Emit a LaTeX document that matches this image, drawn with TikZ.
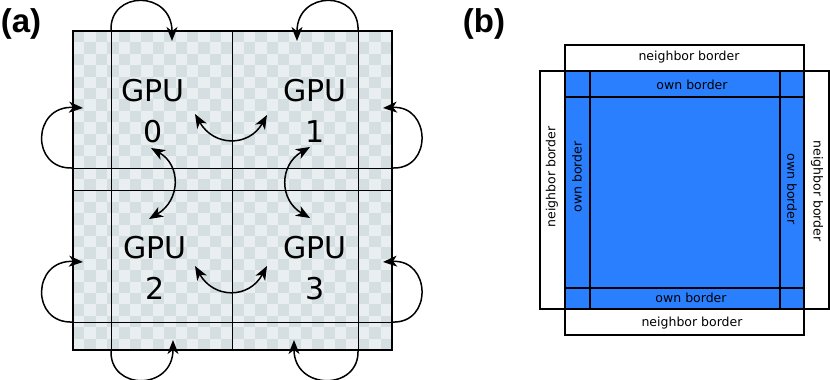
\documentclass[tikz,border=0pt]{standalone}
\usepackage{fontspec}
\setmainfont{DejaVu Sans}
\newfontfamily\labfont{Liberation Sans}
\usetikzlibrary{arrows.meta}
\definecolor{chklight}{HTML}{E9EEF0}
\definecolor{chkdark}{HTML}{D5DFE1}
\definecolor{ownblue}{HTML}{2A7FFF}
\tikzset{
  gpulabel/.style={font=\fontsize{30}{41}\selectfont, align=center, inner sep=0pt},
  panellabel/.style={font=\labfont\bfseries\fontsize{33}{36}\selectfont, inner sep=0pt},
  bordertext/.style={font=\fontsize{12.5}{14}\selectfont, inner sep=0pt},
  gridline/.style={line width=1pt, black},
  tipshape/.style={},
  loopline/.style={line width=1.5pt, black, -{Stealth[length=14pt,width=11pt,inset=4pt]}},
  swapline/.style={line width=1.5pt, black, {Stealth[length=14pt,width=11pt,inset=4pt]}-{Stealth[length=14pt,width=11pt,inset=4pt]}},
  cellbox/.style={draw=black, line width=1.3pt},
}
\begin{document}
\begin{tikzpicture}[x=1pt,y=-1pt]
\useasboundingbox (0,0) rectangle (830,380);

% ---------- panel (a) ----------
\node[panellabel] (la) at (21,24) {(a)};
\def\cs{11.393}
\fill[chklight] (73,31) rectangle (392,350);
\begin{scope}
\clip (73,31) rectangle (392,350);
\foreach \i in {0,...,27}{
  \foreach \j in {0,...,13}{
    \fill[chkdark] ({73+\i*\cs},{31+(2*\j+int(mod(\i,2)))*\cs}) rectangle ++(\cs,\cs);
  }
}
\end{scope}

% coordinates of the grid
\coordinate (hL1) at (73,168);  \coordinate (hR1) at (392,168);
\coordinate (hL2) at (73,322);  \coordinate (hR2) at (392,322);
\coordinate (vT1) at (111,31);  \coordinate (vB1) at (111,350);
\coordinate (vT2) at (358,31);  \coordinate (vB2) at (358,350);
\coordinate (mT) at (232,31);   \coordinate (mB) at (232,350);
\coordinate (mL) at (73,190);   \coordinate (mR) at (392,190);

\draw[gridline] (hL1) -- (hR1);
\draw[gridline] (hL2) -- (hR2);
\draw[gridline] (vT1) -- (vB1);
\draw[gridline] (vT2) -- (vB2);
\draw[gridline] (mT) -- (mB);
\draw[gridline] (mL) -- (mR);
\draw[line width=2pt] (73,31) rectangle (392,350);

% loop targets
\coordinate (tL1) at (83,108);  \coordinate (tR1) at (383,108);
\coordinate (tL2) at (83,262);  \coordinate (tR2) at (383,262);
\coordinate (tT1) at (172,41);  \coordinate (tT2) at (297,41);
\coordinate (tB1) at (173,340); \coordinate (tB2) at (294,340);

\draw[loopline] (hL1) .. controls (30,170) and (32,105) .. (tL1);
\draw[loopline] (hL2) .. controls (30,324) and (32,259) .. (tL2);
\draw[loopline] (hR1) .. controls (433,170) and (431,105) .. (tR1);
\draw[loopline] (hR2) .. controls (433,324) and (431,259) .. (tR2);
\draw[loopline] (vT1) .. controls (109,-10) and (172,-10) .. (tT1);
\draw[loopline] (vT2) .. controls (360,-10) and (297,-10) .. (tT2);
\draw[loopline] (vB1) .. controls (109,391) and (173,391) .. (tB1);
\draw[loopline] (vB2) .. controls (360,391) and (294,391) .. (tB2);

% GPU labels
\node[gpulabel] (g0) at (153,111) {GPU\\0};
\node[gpulabel] (g1) at (315,111) {GPU\\1};
\node[gpulabel] (g2) at (155,268) {GPU\\2};
\node[gpulabel] (g3) at (315,268) {GPU\\3};

% exchange arrows
\coordinate (a01s) at (195,114); \coordinate (a01e) at (267,115);
\coordinate (a23s) at (195,266); \coordinate (a23e) at (267,266);
\coordinate (a02s) at (151,148); \coordinate (a02e) at (149,219);
\coordinate (a13s) at (310,147); \coordinate (a13e) at (310,218);
\draw[swapline] (a01s) .. controls (214,147) and (249,147) .. (a01e);
\draw[swapline] (a23s) .. controls (214,299) and (249,299) .. (a23e);
\draw[swapline] (a02s) .. controls (181,165) and (181,200) .. (a02e);
\draw[swapline] (a13s) .. controls (279,165) and (279,200) .. (a13e);

% ---------- panel (b) ----------
\node[panellabel] (lb) at (484,24) {(b)};
\draw[cellbox, fill=white] (565,45) rectangle (804,71);
\draw[cellbox, fill=white] (565,309) rectangle (804,335);
\draw[cellbox, fill=white] (540,71) rectangle (565,309);
\draw[cellbox, fill=white] (804,71) rectangle (829,309);
\draw[cellbox, fill=ownblue] (565,71) rectangle (804,309);
\draw[cellbox] (590,71) -- (590,309);
\draw[cellbox] (780,71) -- (780,309);
\draw[cellbox] (565,97) -- (804,97);
\draw[cellbox] (565,288) -- (804,288);

\node[bordertext] (nt) at (689,57) {neighbor border};
\node[bordertext] (nb) at (692,323) {neighbor border};
\node[bordertext, rotate=90] (nl) at (552,177) {neighbor border};
\node[bordertext, rotate=-90] (nr) at (817,191) {neighbor border};
\node[bordertext] (ot) at (692,85) {own border};
\node[bordertext] (ob) at (691,298) {own border};
\node[bordertext, rotate=90] (ol) at (577,177) {own border};
\node[bordertext, rotate=-90] (or) at (792,189) {own border};
\end{tikzpicture}
\end{document}
